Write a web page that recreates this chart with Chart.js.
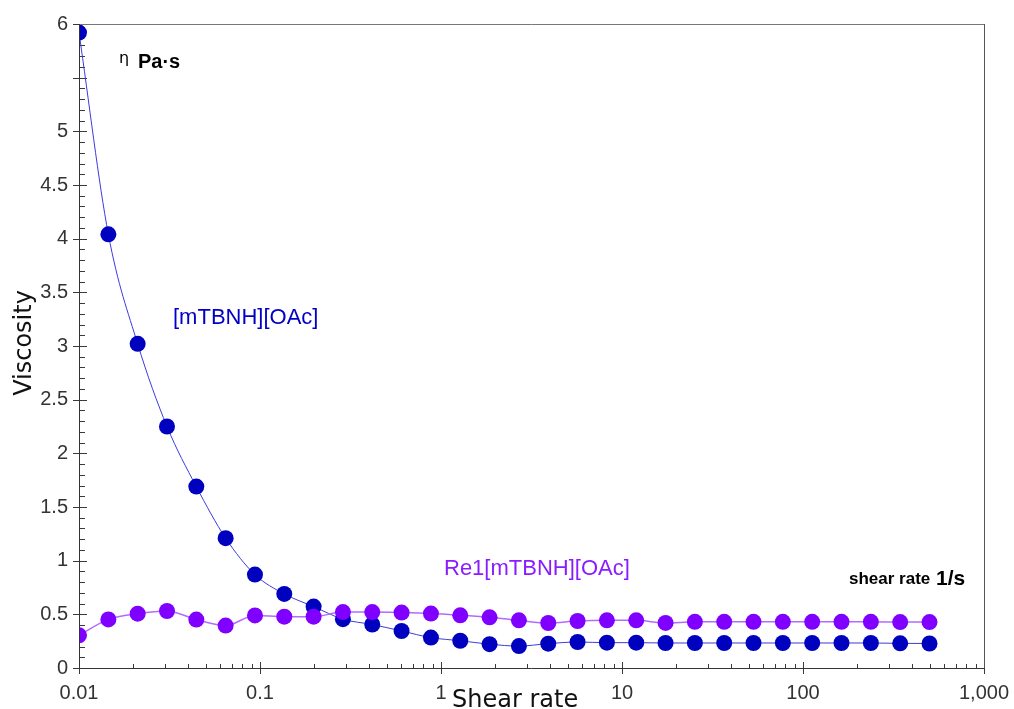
<!DOCTYPE html>
<html>
<head>
<meta charset="utf-8">
<title>Viscosity vs shear rate</title>
<script src="https://cdn.jsdelivr.net/npm/chart.js@4"></script>
<style>
  html, body { margin: 0; padding: 0; background: #ffffff; }
  #wrap { width: 1014px; height: 709px; position: relative; }
</style>
</head>
<body>
<div id="wrap"><canvas id="chart"></canvas></div>
<script>
// Shear rate (1/s), log-spaced measurement points
const shearRate = [
  0.01, 0.01453, 0.02109, 0.03063, 0.04448, 0.06459, 0.0938, 0.1362, 0.1978, 0.2872,
  0.4171, 0.6057, 0.8799, 1.2777, 1.8554, 2.6945, 3.913, 5.6822, 8.2517, 11.983,
  17.402, 25.271, 36.7, 53.29, 77.39, 112.4, 163.2, 237.1, 344.3, 500
];

// Viscosity (Pa·s)
const viscosityIL = [
  5.92, 4.04, 3.02, 2.25, 1.69, 1.21, 0.87, 0.69, 0.572, 0.455,
  0.405, 0.345, 0.283, 0.254, 0.222, 0.204, 0.227, 0.242, 0.236, 0.236,
  0.233, 0.233, 0.233, 0.233, 0.233, 0.233, 0.233, 0.233, 0.23, 0.228
];
const viscosityRe1 = [
  0.304, 0.453, 0.506, 0.531, 0.451, 0.395, 0.49, 0.478, 0.478, 0.521,
  0.521, 0.516, 0.507, 0.491, 0.472, 0.444, 0.419, 0.438, 0.444, 0.444,
  0.42, 0.43, 0.43, 0.43, 0.43, 0.43, 0.43, 0.43, 0.428, 0.428
];

// Axis tick labels
const xTickValues = [0.01, 0.1, 1, 10, 100, 1000];
const xTickLabels = ['0.01', '0.1', '1', '10', '100', '1,000'];
const yTickValues = [0, 0.5, 1, 1.5, 2, 2.5, 3, 3.5, 4, 4.5, 5, 6];
const yTickLabels = ['0', '0.5', '1', '1.5', '2', '2.5', '3', '3.5', '4', '4.5', '5', '6'];

const seriesNames = ['[mTBNH][OAc]', 'Re1[mTBNH][OAc]'];

const toPoints = ys => shearRate.map((x, i) => ({ x: x, y: ys[i] }));

// Minor/major tick marks, plot frame and in-plot annotations
const framePlugin = {
  id: 'frame',
  beforeDatasetsDraw(chart) {
    const { ctx, chartArea: a, scales: { x, y } } = chart;
    ctx.save();
    ctx.strokeStyle = '#3a3a3a';
    ctx.lineWidth = 1;
    ctx.beginPath();
    // y ticks every 0.1, longer crossing ticks every 0.5
    for (let k = 0; k <= 60; k++) {
      const py = Math.round(y.getPixelForValue(k / 10)) + 0.5;
      const major = k % 5 === 0;
      ctx.moveTo(a.left - (major ? 6 : 0), py);
      ctx.lineTo(a.left + (major ? 8 : 6), py);
    }
    // x ticks: decades crossing the axis, 2..9 inside
    for (let e = -2; e <= 3; e++) {
      for (let m = 1; m <= 9; m++) {
        const v = m * Math.pow(10, e);
        if (v > 1000 + 1e-9) break;
        const px = Math.round(x.getPixelForValue(v)) + 0.5;
        if (m === 1) {
          ctx.moveTo(px, a.bottom - 6);
          ctx.lineTo(px, a.bottom + 6);
        } else {
          ctx.moveTo(px, a.bottom - 4);
          ctx.lineTo(px, a.bottom);
        }
      }
    }
    ctx.stroke();
    ctx.restore();
  },
  afterDraw(chart) {
    const { ctx, chartArea: a } = chart;
    ctx.save();
    // frame
    ctx.lineWidth = 1;
    ctx.strokeStyle = '#777777';
    ctx.beginPath();
    ctx.moveTo(a.left, Math.round(a.top) + 0.5);
    ctx.lineTo(Math.round(a.right) + 0.5, Math.round(a.top) + 0.5);
    ctx.stroke();
    ctx.strokeStyle = '#555555';
    ctx.beginPath();
    ctx.moveTo(Math.round(a.right) + 0.5, a.top);
    ctx.lineTo(Math.round(a.right) + 0.5, a.bottom);
    ctx.stroke();
    ctx.strokeStyle = '#333333';
    ctx.beginPath();
    ctx.moveTo(Math.round(a.left) + 0.5, a.top);
    ctx.lineTo(Math.round(a.left) + 0.5, a.bottom);
    ctx.moveTo(a.left, Math.round(a.bottom) + 0.5);
    ctx.lineTo(a.right, Math.round(a.bottom) + 0.5);
    ctx.stroke();

    ctx.textBaseline = 'alphabetic';
    ctx.textAlign = 'left';

    // axis titles
    ctx.fillStyle = '#111111';
    ctx.font = '24px "DejaVu Sans", sans-serif';
    ctx.fillText('Shear rate', 452, 707);
    ctx.save();
    ctx.translate(31, 343);
    ctx.rotate(-Math.PI / 2);
    ctx.textAlign = 'center';
    ctx.fillText('Viscosity', 0, 0);
    ctx.restore();

    // unit labels
    ctx.fillStyle = '#000000';
    ctx.font = '16px "DejaVu Sans", sans-serif';
    ctx.fillText('η', 119, 63);
    ctx.font = 'bold 20px "Liberation Sans", Arial, sans-serif';
    ctx.fillText('Pa·s', 138, 68);
    ctx.font = 'bold 17px "Liberation Sans", Arial, sans-serif';
    ctx.fillText('shear rate', 849, 584);
    ctx.font = 'bold 21px "Liberation Sans", Arial, sans-serif';
    ctx.fillText('1/s', 936, 585);

    // series labels
    ctx.font = '22px "Liberation Sans", Arial, sans-serif';
    ctx.fillStyle = '#0000c8';
    ctx.fillText(seriesNames[0], 173, 324);
    ctx.fillStyle = '#8a1cff';
    ctx.fillText(seriesNames[1], 444, 575);
    ctx.restore();
  }
};

new Chart(document.getElementById('chart'), {
  type: 'line',
  data: {
    datasets: [
      {
        label: seriesNames[0],
        data: toPoints(viscosityIL),
        borderColor: '#3b3bdc',
        borderWidth: 1,
        backgroundColor: '#0000bf',
        pointBackgroundColor: '#0000bf',
        pointBorderWidth: 0,
        pointRadius: 8,
        cubicInterpolationMode: 'monotone',
        order: 2
      },
      {
        label: seriesNames[1],
        data: toPoints(viscosityRe1),
        borderColor: '#b36bff',
        borderWidth: 1.5,
        backgroundColor: '#8000ff',
        pointBackgroundColor: '#8000ff',
        pointBorderWidth: 0,
        pointRadius: 8,
        cubicInterpolationMode: 'monotone',
        order: 1
      }
    ]
  },
  options: {
    responsive: true,
    maintainAspectRatio: false,
    animation: false,
    layout: { autoPadding: false, padding: { top: 24, right: 30, left: 0, bottom: 0 } },
    plugins: {
      legend: { display: false },
      tooltip: { enabled: false }
    },
    scales: {
      x: {
        type: 'logarithmic',
        min: 0.01,
        max: 1000,
        afterFit(scale) {
          scale.height = 41;
          scale.paddingLeft = 0;
          scale.paddingRight = 0;
        },
        afterBuildTicks(scale) { scale.ticks = xTickValues.map(v => ({ value: v })); },
        grid: { display: true, drawOnChartArea: false, drawTicks: false },
        border: { display: false },
        ticks: {
          color: '#333333',
          padding: 13,
          maxRotation: 0,
          autoSkip: false,
          font: { family: '"Liberation Sans", Arial, sans-serif', size: 20 },
          callback(value) {
            const i = xTickValues.findIndex(v => Math.abs(v - value) / v < 1e-6);
            return i >= 0 ? xTickLabels[i] : '';
          }
        }
      },
      y: {
        type: 'linear',
        min: 0,
        max: 6,
        afterFit(scale) {
          scale.width = 79;
          scale.paddingTop = 0;
          scale.paddingBottom = 0;
        },
        afterBuildTicks(scale) { scale.ticks = yTickValues.map(v => ({ value: v })); },
        grid: { display: true, drawOnChartArea: false, drawTicks: false },
        border: { display: false },
        ticks: {
          color: '#333333',
          padding: 11,
          autoSkip: false,
          font: { family: '"Liberation Sans", Arial, sans-serif', size: 20 },
          callback(value) {
            const i = yTickValues.findIndex(v => Math.abs(v - value) < 1e-9);
            return i >= 0 ? yTickLabels[i] : '';
          }
        }
      }
    }
  },
  plugins: [framePlugin]
});
</script>
</body>
</html>
